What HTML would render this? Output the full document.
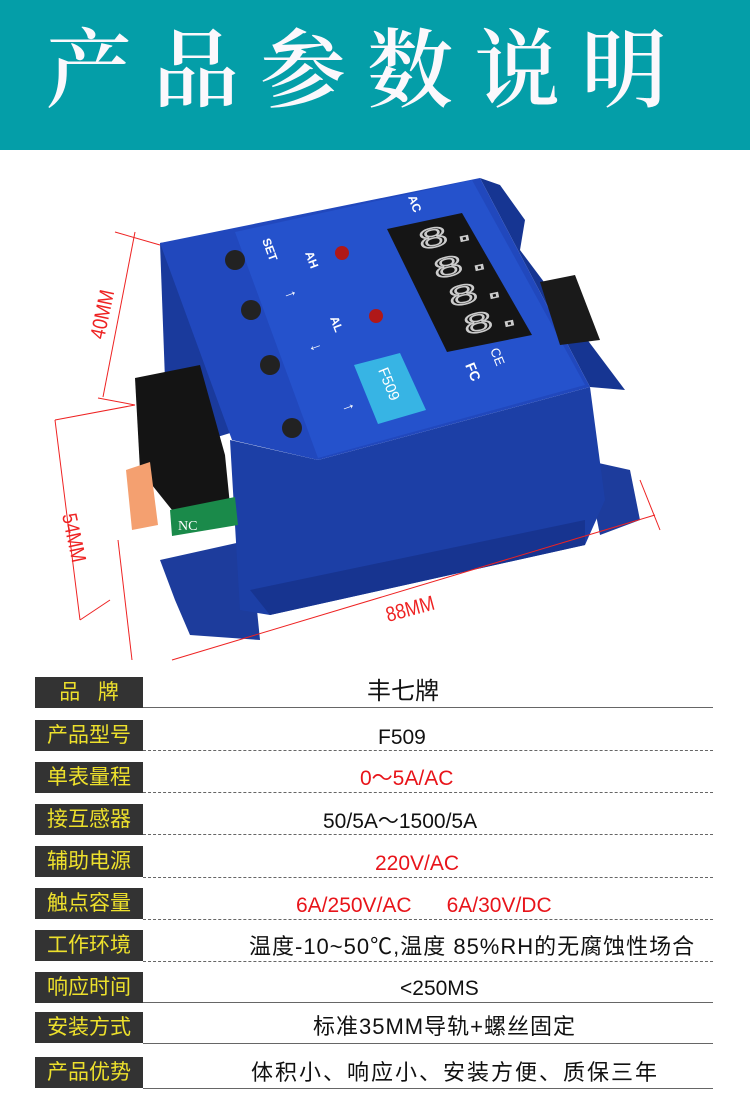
<!DOCTYPE html>
<html><head><meta charset="utf-8"><style>
*{margin:0;padding:0;box-sizing:border-box}
body{width:750px;height:1114px;background:#fff;position:relative;overflow:hidden;font-family:"Liberation Sans","Noto Sans CJK SC",sans-serif}
.banner{position:absolute;left:0;top:0;width:750px;height:150px;background:#049ea8}
.title{position:absolute;left:46px;top:16px;font-family:"Liberation Serif","Noto Serif CJK SC",serif;font-weight:600;font-size:86px;color:#fbf8fc;letter-spacing:21px;line-height:110px;white-space:nowrap}
.lab{position:absolute;left:35px;width:108px;height:31px;background:#333;color:#ede02c;font-size:21px;line-height:31px;text-align:center;font-family:"Liberation Sans","Noto Sans CJK SC",sans-serif}
.ln{position:absolute;left:143px;width:570px;height:0;border-top:1px solid #666}
.val{position:absolute;font-size:21px;line-height:24px;white-space:nowrap;font-family:"Liberation Sans","Noto Sans CJK SC",sans-serif;color:#111}
.r{color:#e8141a}
svg{position:absolute;left:0;top:0}
</style></head><body>
<div class="banner"></div>
<div class="title">产品参数说明</div>
<svg width="750" height="670" viewBox="0 0 750 670">
 <polygon points="160,560 250,540 260,640 190,635 175,600" fill="#1d3c9c"/>
 <polygon points="585,460 630,470 640,520 600,535" fill="#1d3c9c"/>
 <polygon points="230,440 318,460 590,387 605,500 585,545 270,615 240,610" fill="#1c3fa6"/>
 <polygon points="250,590 585,520 585,545 270,615" fill="#173490"/>
 <polygon points="160,243 235,232 240,430 175,450 165,380" fill="#1a3a9c"/>
 <polygon points="480,178 500,185 525,220 520,250 625,390 590,387" fill="#163592"/>
 <polygon points="160,243 480,178 590,387 318,460 232,440" fill="#2148bd"/>
 <polygon points="235,232 472,180 585,385 318,458" fill="#2552cc"/>
 <polygon points="387,229 462,213 532,335 447,352" fill="#151515"/>
 <g fill="none" stroke="#ccc" stroke-width="1.6" font-family="Liberation Mono,monospace" font-size="30">
  <text transform="translate(420,250) rotate(-12) scale(1.7,0.95)">8.</text>
  <text transform="translate(435,279) rotate(-12) scale(1.7,0.95)">8.</text>
  <text transform="translate(450,307) rotate(-12) scale(1.7,0.95)">8.</text>
  <text transform="translate(465,335) rotate(-12) scale(1.7,0.95)">8.</text>
 </g>
 <circle cx="235" cy="260" r="10" fill="#222"/>
 <circle cx="251" cy="310" r="10" fill="#222"/>
 <circle cx="270" cy="365" r="10" fill="#222"/>
 <circle cx="292" cy="428" r="10" fill="#222"/>
 <circle cx="342" cy="253" r="7" fill="#b01818"/>
 <circle cx="376" cy="316" r="7" fill="#b01818"/>
 <g fill="#fff" font-family="Liberation Sans,sans-serif" font-weight="bold" font-size="12">
  <text transform="translate(262,240) rotate(70)">SET</text>
  <text transform="translate(305,253) rotate(70)">AH</text>
  <text transform="translate(330,318) rotate(70)">AL</text>
  <text transform="translate(408,197) rotate(70)">AC</text>
  <text transform="translate(285,292) rotate(70)" font-size="16">↑</text>
  <text transform="translate(310,345) rotate(70)" font-size="16">↓</text>
  <text transform="translate(343,405) rotate(70)" font-size="16">↑</text>
 </g>
 <polygon points="354,365 400,353 426,410 378,424" fill="#37b4e4"/>
 <text transform="translate(378,370) rotate(68)" fill="#fff" font-size="15" font-family="Liberation Sans,sans-serif">F509</text>
 <text transform="translate(490,350) rotate(68)" fill="#fff" font-size="13" font-family="Liberation Sans,sans-serif">CE</text>
 <text transform="translate(465,365) rotate(68)" fill="#fff" font-size="14" font-weight="bold" font-family="Liberation Sans,sans-serif">FC</text>
 <polygon points="135,378 200,365 225,455 230,505 180,520 140,470" fill="#141414"/>
 <polygon points="170,510 235,497 238,525 172,536" fill="#1a8a4a"/>
 <text x="178" y="530" fill="#fff" font-size="14" font-family="Liberation Serif,serif">NC</text>
 <polygon points="126,470 150,462 158,525 132,530" fill="#f4a070"/>
 <polygon points="540,282 575,275 600,340 560,345" fill="#1a1a1a"/>
 <g stroke="#e22" stroke-width="1" fill="none">
  <line x1="135" y1="232" x2="103" y2="397"/>
  <line x1="115" y1="232" x2="160" y2="245"/>
  <line x1="98" y1="398" x2="135" y2="405"/>
  <line x1="55" y1="420" x2="135" y2="405"/>
  <line x1="55" y1="420" x2="80" y2="620"/>
  <line x1="80" y1="620" x2="110" y2="600"/>
  <line x1="118" y1="540" x2="132" y2="660"/>
  <line x1="172" y1="660" x2="655" y2="515"/>
  <line x1="640" y1="480" x2="660" y2="530"/>
 </g>
 <g fill="#e22" font-family="Liberation Sans,sans-serif" font-size="21">
  <text transform="translate(104,340) rotate(-78) scale(0.85,1)">40MM</text>
  <text transform="translate(62,515) rotate(78) scale(0.85,1)">54MM</text>
  <text transform="translate(388,622) rotate(-15) scale(0.85,1)">88MM</text>
 </g>
</svg>

<div class="lab" style="top:677px">品&nbsp;&nbsp;&nbsp;牌</div><div class="ln" style="top:707px"></div>
<div class="val" style="left:367px;top:680px;font-size:24px">丰七牌</div>

<div class="lab" style="top:720px">产品型号</div><div class="ln" style="top:750px;border-top-style:dashed"></div>
<div class="val" style="left:378px;top:726px">F509</div>

<div class="lab" style="top:762px">单表量程</div><div class="ln" style="top:792px;border-top-style:dashed"></div>
<div class="val r" style="left:360px;top:767px">0～5A/AC</div>

<div class="lab" style="top:804px">接互感器</div><div class="ln" style="top:834px;border-top-style:dashed"></div>
<div class="val" style="left:323px;top:810px">50/5A～1500/5A</div>

<div class="lab" style="top:846px">辅助电源</div><div class="ln" style="top:877px;border-top-style:dashed"></div>
<div class="val r" style="left:375px;top:852px">220V/AC</div>

<div class="lab" style="top:888px">触点容量</div><div class="ln" style="top:919px;border-top-style:dashed"></div>
<div class="val r" style="left:296px;top:894px">6A/250V/AC&nbsp;&nbsp;&nbsp;&nbsp;&nbsp;&nbsp;6A/30V/DC</div>

<div class="lab" style="top:930px">工作环境</div><div class="ln" style="top:961px;border-top-style:dashed"></div>
<div class="val" style="left:249px;top:935px;font-size:22px;letter-spacing:1px">温度-10~50℃,温度 85%RH的无腐蚀性场合</div>

<div class="lab" style="top:972px">响应时间</div><div class="ln" style="top:1002px"></div>
<div class="val" style="left:400px;top:977px">&lt;250MS</div>

<div class="lab" style="top:1012px">安装方式</div><div class="ln" style="top:1043px"></div>
<div class="val" style="left:313px;top:1015px;font-size:22px;letter-spacing:1px">标准35MM导轨+螺丝固定</div>

<div class="lab" style="top:1057px">产品优势</div><div class="ln" style="top:1088px"></div>
<div class="val" style="left:251px;top:1061px;font-size:22px;letter-spacing:2px">体积小、响应小、安装方便、质保三年</div>
</body></html>
